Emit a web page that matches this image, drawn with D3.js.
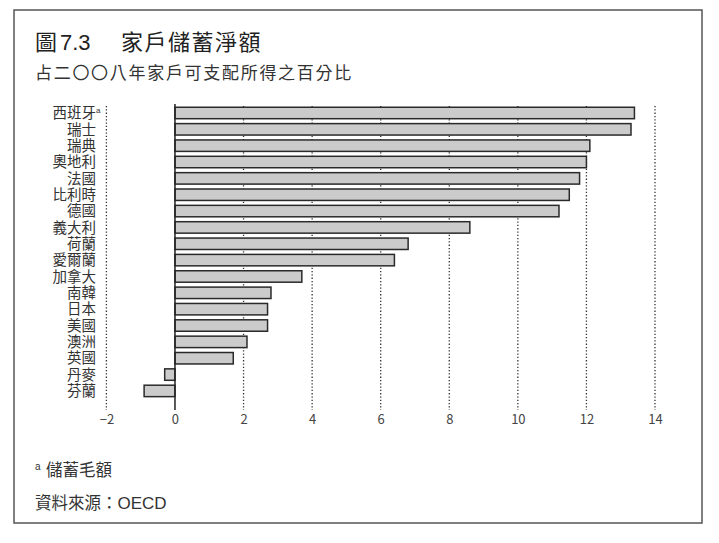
<!DOCTYPE html>
<html>
<head>
<meta charset="utf-8">
<script src="https://cdn.jsdelivr.net/npm/d3@7"></script>
<style>
  body { margin: 0; background: #fff; }
  svg text { font-family: "Noto Sans CJK TC", "Noto Sans", sans-serif; }
</style>
</head>
<body>
<div id="chart"></div>
<script>
// Household net saving, % of disposable income, 2008
const countries = ["西班牙", "瑞士", "瑞典", "奧地利", "法國", "比利時", "德國", "義大利", "荷蘭",
  "愛爾蘭", "加拿大", "南韓", "日本", "美國", "澳洲", "英國", "丹麥", "芬蘭"];
const savings = [13.4, 13.3, 12.1, 12.0, 11.8, 11.5, 11.2, 8.6, 6.8,
  6.4, 3.7, 2.8, 2.7, 2.7, 2.1, 1.7, -0.3, -0.9];
const footnoted = ["西班牙"];
const xTicks = [-2, 0, 2, 4, 6, 8, 10, 12, 14];

const width = 719;
const height = 543;

const data = countries.map((c, i) => ({ country: c, value: savings[i] }));

const svg = d3.create("svg").attr("width", width).attr("height", height);

// frame
svg.append("rect")
  .attr("x", 14).attr("y", 10)
  .attr("width", 688).attr("height", 513)
  .attr("fill", "none")
  .attr("stroke", "#555")
  .attr("stroke-width", 1.5);

// title + subtitle
const title = svg.append("text")
  .attr("y", 50)
  .attr("fill", "#222")
  .attr("font-size", 22);
title.append("tspan").attr("x", 35).text("圖");
title.append("tspan").attr("x", 60)
  .attr("font-family", "Liberation Sans, Arial, sans-serif")
  .text("7.3");
title.append("tspan").attr("x", 121).attr("letter-spacing", 1.5).text("家戶儲蓄淨額");

svg.append("text")
  .attr("x", 35).attr("y", 79)
  .attr("fill", "#333")
  .attr("font-size", 17)
  .attr("letter-spacing", 1.7)
  .text("占二〇〇八年家戶可支配所得之百分比");

// scales
const x = d3.scaleLinear([-2, 14], [106.4, 655]);
const y = d3.scaleBand(countries, [104.8, 399.1])
  .paddingInner(0.3)
  .paddingOuter(0.15);

const gridTop = 106;
const gridBottom = 410;

// dotted grid lines
svg.append("g")
  .selectAll("line")
  .data(xTicks.filter((t) => t !== 0))
  .join("line")
  .attr("x1", (d) => x(d)).attr("x2", (d) => x(d))
  .attr("y1", gridTop).attr("y2", gridBottom)
  .attr("stroke", "#333")
  .attr("stroke-width", 1.3)
  .attr("stroke-dasharray", "1.3,2");

// bars
svg.append("g")
  .selectAll("rect")
  .data(data)
  .join("rect")
  .attr("x", (d) => x(Math.min(0, d.value)))
  .attr("width", (d) => Math.abs(x(d.value) - x(0)))
  .attr("y", (d) => y(d.country))
  .attr("height", y.bandwidth())
  .attr("fill", "#cbcbcb")
  .attr("stroke", "#2a2a2a")
  .attr("stroke-width", 1.5);

// zero line
svg.append("line")
  .attr("x1", x(0)).attr("x2", x(0))
  .attr("y1", 104).attr("y2", gridBottom)
  .attr("stroke", "#222")
  .attr("stroke-width", 1.5);

// x axis labels
const xAxis = svg.append("g")
  .attr("transform", `translate(0,${gridBottom})`)
  .call(d3.axisBottom(x).tickValues(xTicks).tickSize(0).tickPadding(5)
    .tickFormat((d) => (d < 0 ? "\u2212" + Math.abs(d) : d)));
xAxis.select(".domain").remove();
xAxis.selectAll("text")
  .attr("font-family", "Liberation Sans Narrow, Liberation Sans, Arial, sans-serif")
  .attr("font-size", 13)
  .attr("fill", "#444");

// country labels
const labels = svg.append("g")
  .selectAll("text")
  .data(data)
  .join("text")
  .attr("x", 96)
  .attr("y", (d) => y(d.country) + y.bandwidth() / 2)
  .attr("dy", "0.36em")
  .attr("text-anchor", "end")
  .attr("font-size", 14.5)
  .attr("fill", "#333")
  .text((d) => d.country);

labels.filter((d) => footnoted.includes(d.country))
  .attr("text-anchor", "start")
  .attr("x", 96 - 14.5 * 3)
  .append("tspan")
  .attr("font-size", 8)
  .attr("dy", "-0.6em")
  .attr("font-family", "Liberation Sans, Arial, sans-serif")
  .text("a");

// footnotes
const note = svg.append("text")
  .attr("x", 35).attr("y", 476)
  .attr("fill", "#333")
  .attr("font-size", 16.5);
note.append("tspan")
  .attr("font-size", 10)
  .attr("dy", "-0.6em")
  .attr("font-family", "Liberation Sans, Arial, sans-serif")
  .text("a");
note.append("tspan").attr("x", 46).attr("dy", "0.38em").text("儲蓄毛額");

const src = svg.append("text")
  .attr("x", 35).attr("y", 509)
  .attr("fill", "#333")
  .attr("font-size", 16.5);
src.append("tspan").text("資料來源：");
src.append("tspan")
  .attr("font-family", "Liberation Sans, Arial, sans-serif")
  .attr("font-size", 17)
  .text("OECD");

d3.select("#chart").node().appendChild(svg.node());
</script>
</body>
</html>
